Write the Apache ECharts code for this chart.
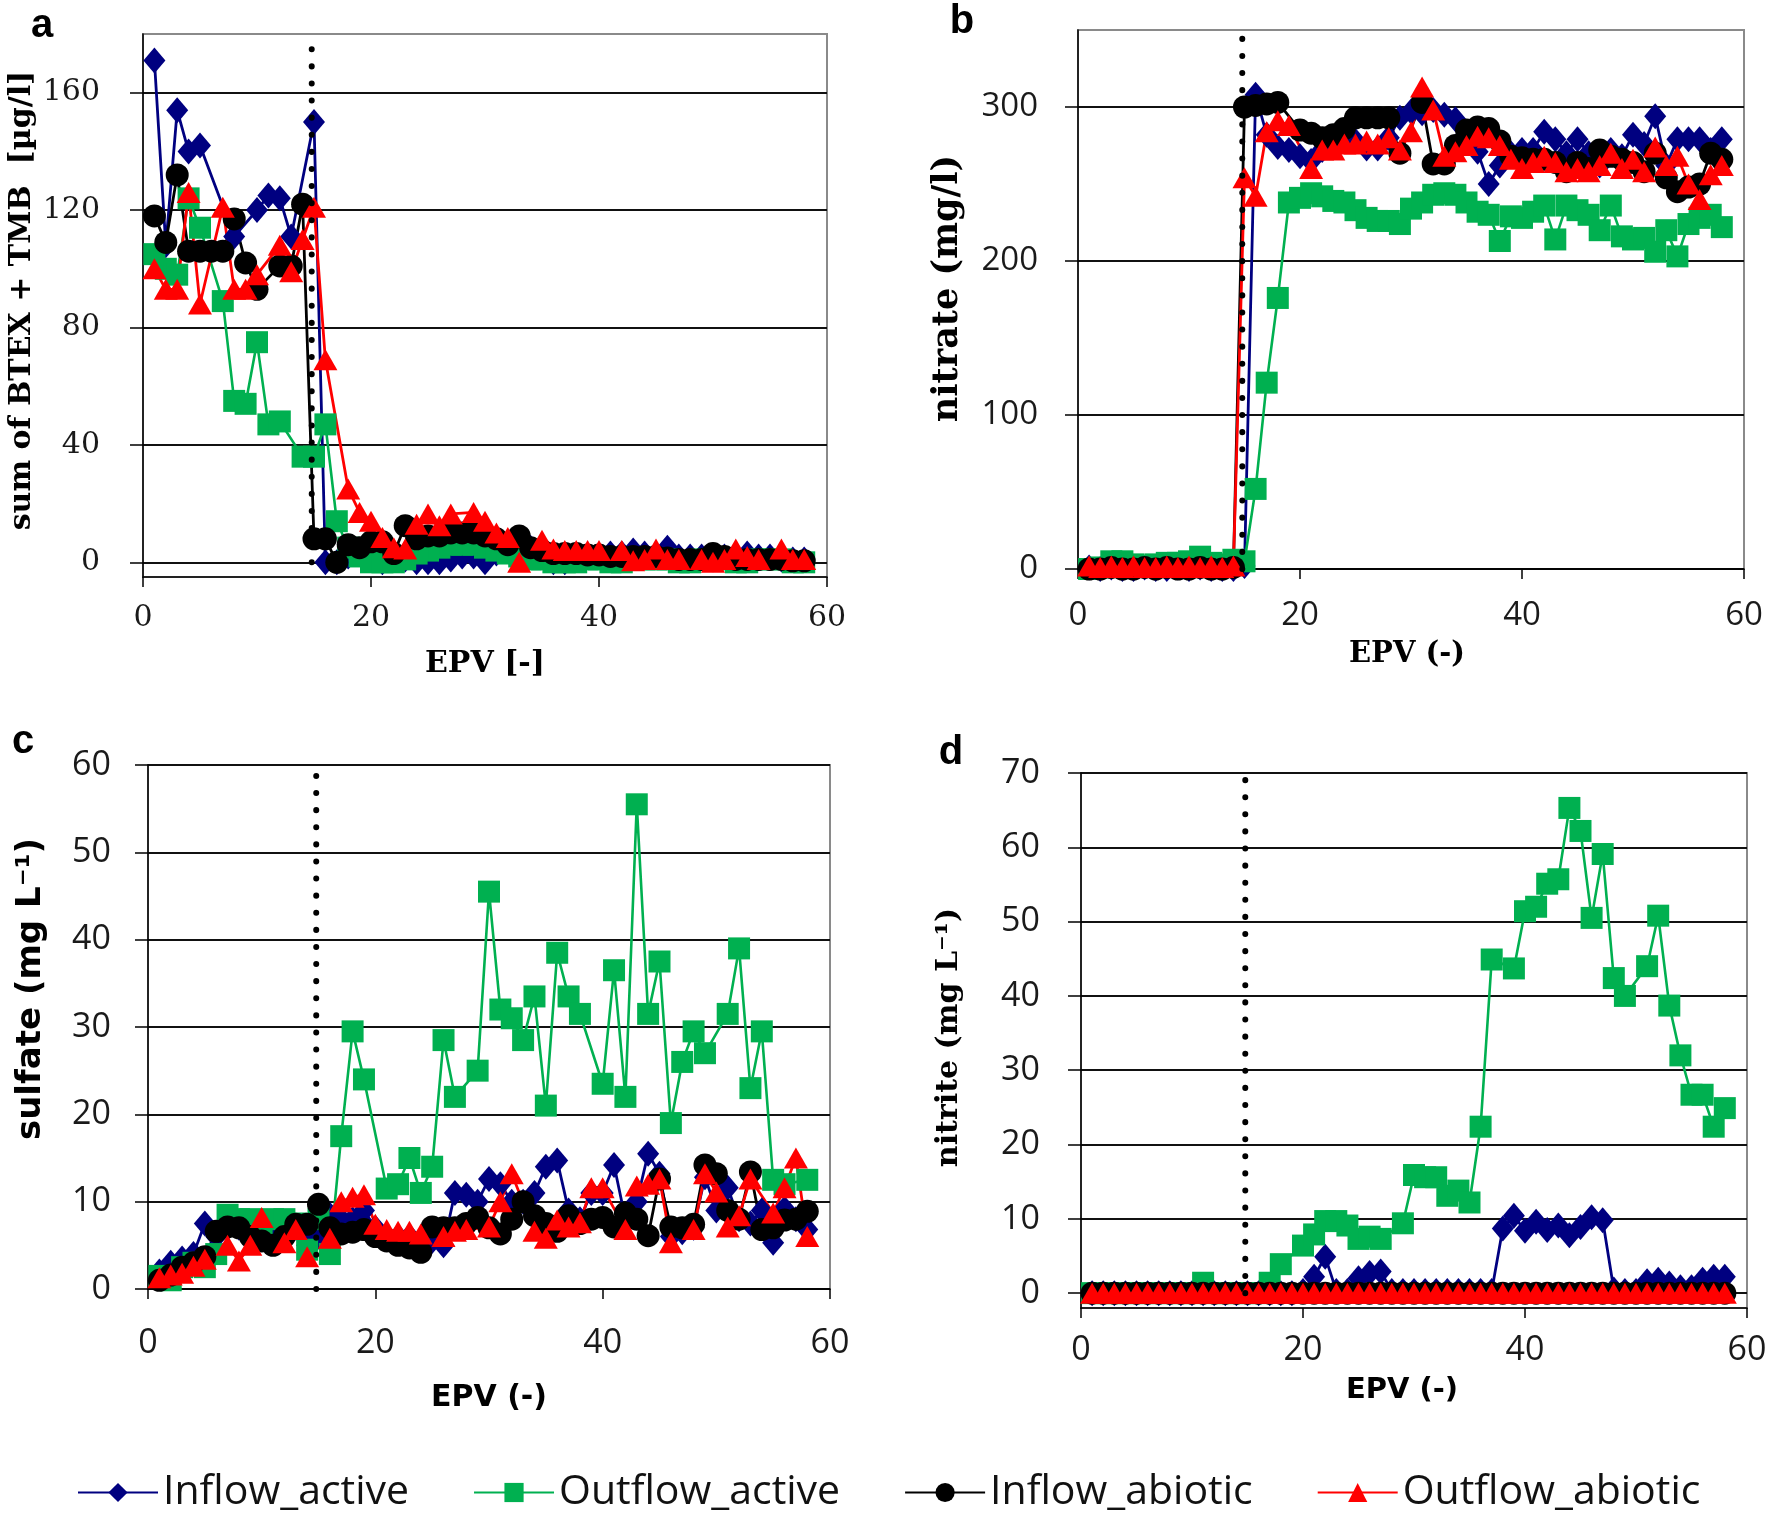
<!DOCTYPE html>
<html><head><meta charset="utf-8">
<script src="https://cdn.jsdelivr.net/npm/echarts@6/dist/echarts.min.js"></script>
<style>html,body{margin:0;padding:0;background:#fff}#c{width:1770px;height:1518px}</style>
</head><body><div id="c"></div>
<script>
// ---------------- DATA ----------------
const EPV = [1,2,3,4,5,6,7,8,9,10,11,12,13,14,15,16,17,18,19,20,21,22,23,24,25,26,27,28,29,30,31,32,33,34,35,36,37,38,39,40,41,42,43,44,45,46,47,48,49,50,51,52,53,54,55,56,57,58];
const SERIES_NAMES = ['Inflow_active','Outflow_active','Inflow_abiotic','Outflow_abiotic'];
const X_TICKS = [0,20,40,60];
const SWITCH_EPV = 14.8;

// panel a: sum of BTEX + TMB [µg/l]
const btexInflowActive = [171,108,154,140,142,null,null,111,null,120, 125,124,111,null,150,0,0,2,3,1, 0,1,1,0,0,0,1,2,2,0, 3,4,4,5,3,0,0,1,2,2, 3,3,4,3,2,5,2,2,2,1, 2,2,3,2,2,1,1,1];
const btexOutflowActive = [105,100,98,124,114,null,89,55,54,75, 47,48,null,36,36,47,14,5,2,0, 0,0,1,3,4,5,6,6,6,5, 4,3,2,1,1,0,0,0,1,1, 0,0,1,1,1,1,0,0,1,1, 1,0,0,1,1,1,0,0];
const btexInflowAbiotic = [118,109,132,106,106,106,106,117,102,93, null,101,101,122,8,8,0,6,5,7, 7,3,12.5,8,9,9,10,10,10,9, 8,6,9,5,4,3,3,3,2.5,2.5, 2,2,2,2,2,1.5,1,1,1,3, 2,1,1,1,1,1,0.5,0.5];
const btexOutflowAbiotic = [100,93,93,126,88,null,121,93,93,98, null,108,99,110,121,69,null,25,17,14, 8.5,5,4.5,13,16.5,12.5,16.5,null,17,14, 10,8.5,0,null,7.5,4.5,4,4,4,4, null,4,0.5,1,4.5,1,1,null,1,0, 1,4.5,2,1,null,4.5,1,1];
const btexTicks = [0,40,80,120,160];

// panel b: nitrate (mg/l)
const nitrateInflowActive = [1,0,1,0,0,1,0,0,1,0, 1,0,0,0,2,308,282,274,272,268, 265,272,277,282,278,273,273,280,293,297, 296,298,295,292,283,271,250,262,270,272, 272,284,279,270,279,270,262,272,268,282, 276,294,262,279,279,279,272,279];
const nitrateOutflowActive = [0,1,5,5,3,2,3,4,4,5, 8,4,3,6,5,52,121,176,238,241, 244,242,239,238,233,228,226,226,224,234, 238,243,244,243,238,232,230,213,229,228, 232,236,214,236,233,230,220,236,216,214, 215,206,220,203,224,228,230,222];
const nitrateInflowAbiotic = [0,0,1,0,0,1,0,1,0,0, 1,0,0,1,300,301,302,303,null,285, 283,280,282,286,293,293,293,293,270,null, 303,263,263,275,285,287,286,278,268,267, 266,266,264,258,264,260,272,268,266,264, 258,270,254,245,248,250,270,266];
const nitrateOutflowAbiotic = [2,1,2,1,2,1,1,2,1,2, 1,2,1,2,254,242,284,291,288,null, 260,272,272,276,276,278,276,280,272,284, 313,298,268,271,275,281,280,275,266,260, 264,268,264,258,260,258,262,270,260,266, 258,274,262,268,250,240,256,262];
const nitrateTicks = [0,100,200,300];

// panel c: sulfate (mg L-1)
const sulfateInflowActive = [2,3,3.5,4,7.5,6,7,7,6.5,6, 6,7,7,5,6,8.5,8,8,9,7, 6,6,6,5.5,5.5,5,11,10.8,10,12.6, 12,10,10,11,14,14.7,9,8,11,11, 14.2,8,10,15.5,13.2,6,6.5,7,12.8,9, 11.6,8,7.5,9,5.3,9.2,8,6.8];
const sulfateOutflowActive = [1.5,1,2.5,3,2.5,4,8.5,8,8,7.5, 8,8,7.5,4.5,8,4,17.5,29.5,24,null, 11.5,12,15,11,14,28.5,22,null,25,45.5, 32,31,28.5,33.5,21,38.5,33.5,31.5,null,23.5, 36.5,22,55.5,31.5,37.5,19,26,29.5,27,null, 31.5,39,23,29.5,12.5,12,null,12.5];
const sulfateInflowAbiotic = [1,1.6,2.5,3,3.7,6.6,7.1,7,6,5.5, 5,6,7.4,7.4,9.7,7,6.3,6.5,6.8,6, 5.5,5,4.7,4.2,7.1,7,7,7.5,8.2,7, 6.3,8,10,8.4,7.5,6.6,8.4,7.5,8,8.2, 7.1,8.7,8,6.1,12.6,7.1,7,7.4,14.2,13.2, 9,8,13.4,6.8,7,7.9,8,8.9];
const sulfateOutflowAbiotic = [1.3,1.6,1.8,2.6,3.4,null,5,3.2,5,8.2, null,5.3,6.8,3.7,null,5.8,10,10.5,10.8,7.4, 6.8,6.6,6.6,6.3,null,6,6.6,6.8,null,7.1, 10,13.2,null,6.6,5.8,7.9,7.1,7.6,11.6,11.6, null,6.8,11.8,12,12.6,5.3,null,6.8,13.2,11.1, 7.1,8.4,12.6,null,8.7,11.6,15,6];
const sulfateTicks = [0,10,20,30,40,50,60];

// panel d: nitrite (mg L-1)
const nitriteInflowActive = [0,0,0,0,0,0,0,0,0,0, 0,0,0,0,0,0,0,0,0,0.3, 2.2,4.9,0.3,0.3,2,2.7,2.9,0.3,0.3,0.3, 0.3,0.3,0.3,0.3,0.3,0.3,0.3,8.7,10.4,8.4, 9.6,8.5,9.1,7.8,8.9,10.2,9.8,0.5,0.3,0.3, 1.6,1.8,1.3,0.8,0.8,1.8,2.2,2.2];
const nitriteOutflowActive = [0,0,0,0,0,0,0,0,0,0, 1.4,0,0,0,0,0,1.4,3.9,null,6.4, 7.9,9.7,9.7,9.1,7.3,7.6,7.3,null,9.4,15.9, 15.6,15.6,13.1,13.8,12.2,22.4,44.9,null,43.7,51.4, 52,55.1,55.7,65.3,62.2,50.5,59.1,42.4,40,null, 44,50.8,38.7,32,26.7,26.7,22.4,24.9];
const nitriteInflowAbiotic = [0,0,0,0,0,0,0,0,0,0, 0,0,0,0,0,0,0,0,0,0, 0,0,0,0,0,0,0,0,0,0, 0,0,0,0,0,0,0,0,0,0, 0,0,0,0,0,0,0,0,0,0, 0,0,0,0,0,0,0,0];
const nitriteOutflowAbiotic = [0,0,0,0,0,0,0,0,0,0, 0,0,0,0,0,0,0,0,0,0, 0,0,0,0,0,0,0,0,0,0, 0,0,0,0,0,0,0,0,0,0, 0,0,0,0,0,0,0,0,0,0, 0,0,0,0,0,0,0,0];
const nitriteTicks = [0,10,20,30,40,50,60,70];

// ---------------- STYLE / LAYOUT ----------------
const COLORS = ['#000080','#00B050','#000000','#FF0000'];
const SYMBOLS = ['diamond','rect','circle','triangle'];
const SIZES = [[22,26],[22,22],[23,23],[24,21]];
const LINE_W = [2.8,2.6,2.8,2.8];

const panels = [
  {vals:[btexInflowActive,btexOutflowActive,btexInflowAbiotic,btexOutflowAbiotic], ticks:btexTicks, min:-5, max:180, top:176,
   grid:{left:143, top:34, width:684, height:543},
   tickFont:{fontFamily:'DejaVu Serif', fontSize:30}, labMarginY:43, labMarginX:26,
   yName:'sum of BTEX + TMB  [µg/l]', yFont:{fontFamily:'DejaVu Serif', fontWeight:'bold', fontSize:30, padding:[0,0,0,10]}, yGap:106,
   xName:'EPV [-]', xFont:{fontFamily:'DejaVu Serif', fontWeight:'bold', fontSize:30}, xGap:72},
  {vals:[nitrateInflowActive,nitrateOutflowActive,nitrateInflowAbiotic,nitrateOutflowAbiotic], ticks:nitrateTicks, min:0, max:350, top:345,
   grid:{left:1078, top:30, width:666, height:539},
   tickFont:{fontFamily:'Open Sans', fontSize:33}, labMarginY:40, labMarginX:30,
   yName:'nitrate (mg/l)', yFont:{fontFamily:'DejaVu Serif', fontWeight:'bold', fontSize:35, padding:[0,0,0,22]}, yGap:113,
   xName:'EPV (-)', xFont:{fontFamily:'DejaVu Serif', fontWeight:'bold', fontSize:29, padding:[0,8,0,0]}, xGap:71},
  {vals:[sulfateInflowActive,sulfateOutflowActive,sulfateInflowAbiotic,sulfateOutflowAbiotic], ticks:sulfateTicks, min:0, max:60, top:59.4,
   grid:{left:148, top:765, width:682, height:524},
   tickFont:{fontFamily:'Open Sans', fontSize:34}, labMarginY:37, labMarginX:37,
   yName:'sulfate (mg L⁻¹)', yFont:{fontFamily:'DejaVu Sans', fontWeight:'bold', fontSize:34, padding:[0,0,0,76]}, yGap:100,
   xName:'EPV (-)', xFont:{fontFamily:'DejaVu Sans', fontWeight:'bold', fontSize:30}, xGap:94},
  {vals:[nitriteInflowActive,nitriteOutflowActive,nitriteInflowAbiotic,nitriteOutflowAbiotic], ticks:nitriteTicks, min:-2, max:70, top:69.5,
   grid:{left:1081, top:773, width:666, height:535},
   tickFont:{fontFamily:'Open Sans', fontSize:34}, labMarginY:41, labMarginX:25,
   yName:'nitrite (mg L⁻¹)', yFont:{fontFamily:'DejaVu Serif', fontWeight:'bold', fontSize:30, padding:[0,0,0,6]}, yGap:117,
   xName:'EPV (-)', xFont:{fontFamily:'DejaVu Sans', fontWeight:'bold', fontSize:29, padding:[0,24,0,0]}, xGap:68}
];

const grids = [], xAxes = [], yAxes = [], series = [];
panels.forEach((p, i) => {
  grids.push(Object.assign({show:true, borderColor:'#8a8a8a', borderWidth:2, backgroundColor:'transparent', containLabel:false}, p.grid));
  xAxes.push({
    type:'value', gridIndex:i, min:0, max:60, interval:20,
    axisLine:{show:true, onZero:false, lineStyle:{color:'#000', width:1.5}},
    axisTick:{show:true, length:10, lineStyle:{color:'#000', width:1.5}},
    axisLabel:Object.assign({color:'#1a1a1a', margin:p.labMarginX}, p.tickFont),
    splitLine:{show:false},
    name:p.xName, nameLocation:'middle', nameGap:p.xGap,
    nameTextStyle:Object.assign({color:'#000'}, p.xFont)
  });
  yAxes.push({
    type:'value', gridIndex:i, min:p.min, max:p.max,
    axisLine:{show:true, onZero:false, lineStyle:{color:'#000', width:1.5}},
    axisTick:{show:true, length:13, customValues:p.ticks, lineStyle:{color:'#000', width:1.5}},
    axisLabel:Object.assign({color:'#1a1a1a', margin:p.labMarginY, customValues:p.ticks}, p.tickFont),
    splitLine:{show:true, lineStyle:{color:'#111', width:2}},
    name:p.yName, nameLocation:'middle', nameGap:p.yGap, nameRotate:90,
    nameTextStyle:Object.assign({color:'#000'}, p.yFont)
  });
  p.vals.forEach((vals, s) => {
    const data = [];
    EPV.forEach((x, k) => { if (vals[k] !== null) data.push([x, vals[k]]); });
    series.push({
      name:SERIES_NAMES[s], type:'line', xAxisIndex:i, yAxisIndex:i, data:data,
      symbol:SYMBOLS[s], symbolSize:SIZES[s], showSymbol:true, showAllSymbol:true,
      connectNulls:true, clip:false,
      lineStyle:{color:COLORS[s], width:LINE_W[s]},
      itemStyle:{color:COLORS[s], borderWidth:0},
      emphasis:{disabled:true}, z:2
    });
  });
  series.push({
    name:'switch', type:'line', xAxisIndex:i, yAxisIndex:i,
    data:[[SWITCH_EPV, 0],[SWITCH_EPV, p.top]],
    symbol:'none', silent:true, clip:false,
    lineStyle:{color:'#000', width:6, type:[0.1, 17], cap:'round'},
    emphasis:{disabled:true}, z:5
  });
});

const letterFont = 'bold 40px "Liberation Sans", Arial, sans-serif';
const letters = [['a',42,26],['b',962,22],['c',23,742],['d',951,753]].map(([t,x,y]) => ({
  type:'text', x:x, y:y, silent:true,
  style:{text:t, font:letterFont, fill:'#000', textAlign:'center', textVerticalAlign:'middle', align:'center', verticalAlign:'middle'}
}));

const chart = echarts.init(document.getElementById('c'), null, {renderer:'canvas'});
chart.setOption({
  animation:false,
  backgroundColor:'#fff',
  grid:grids, xAxis:xAxes, yAxis:yAxes, series:series,
  legend:{
    data:SERIES_NAMES, left:72, top:1467, orient:'horizontal',
    itemWidth:80, itemHeight:24, itemGap:64, selectedMode:false,
    textStyle:{fontFamily:'Open Sans', fontSize:41, color:'#111'}
  },
  graphic:letters
});
</script>
</body></html>
